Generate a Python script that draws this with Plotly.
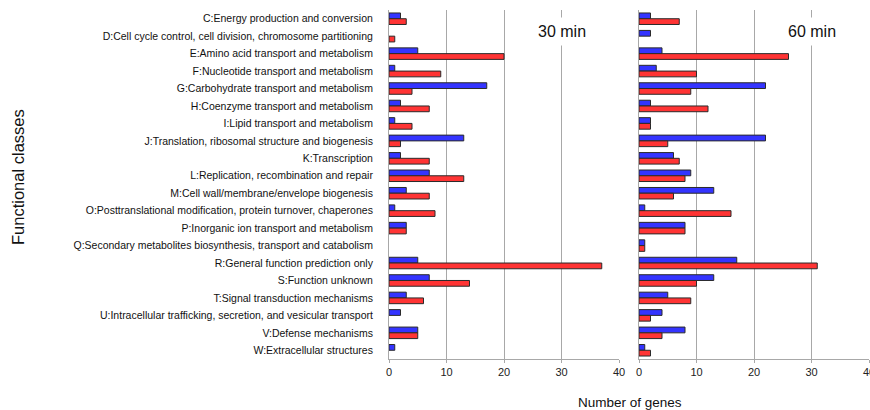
import plotly.graph_objects as go

categories = [
    "C:Energy production and conversion",
    "D:Cell cycle control, cell division, chromosome partitioning",
    "E:Amino acid transport and metabolism",
    "F:Nucleotide transport and metabolism",
    "G:Carbohydrate transport and metabolism",
    "H:Coenzyme transport and metabolism",
    "I:Lipid transport and metabolism",
    "J:Translation, ribosomal structure and biogenesis",
    "K:Transcription",
    "L:Replication, recombination and repair",
    "M:Cell wall/membrane/envelope biogenesis",
    "O:Posttranslational modification, protein turnover, chaperones",
    "P:Inorganic ion transport and metabolism",
    "Q:Secondary metabolites biosynthesis, transport and catabolism",
    "R:General function prediction only",
    "S:Function unknown",
    "T:Signal transduction mechanisms",
    "U:Intracellular trafficking, secretion, and vesicular transport",
    "V:Defense mechanisms",
    "W:Extracellular structures",
]

# 30 min: blue / red series
blue_30 = [2, 0, 5, 1, 17, 2, 1, 13, 2, 7, 3, 1, 3, 0, 5, 7, 3, 2, 5, 1]
red_30 = [3, 1, 20, 9, 4, 7, 4, 2, 7, 13, 7, 8, 3, 0, 37, 14, 6, 0, 5, 0]

# 60 min: blue / red series
blue_60 = [2, 2, 4, 3, 22, 2, 2, 22, 6, 9, 13, 1, 8, 1, 17, 13, 5, 4, 8, 1]
red_60 = [7, 0, 26, 10, 9, 12, 2, 5, 7, 8, 6, 16, 8, 1, 31, 10, 9, 2, 4, 2]

x_ticks = [0, 10, 20, 30, 40]
panel_titles = ["30 min", "60 min"]

BLUE = "#3434ff"
RED = "#ff3434"
EDGE = "#2a2a2a"
GRID = "#a8a8a8"
FONT = "Liberation Sans, Arial, sans-serif"


def bars(values):
    # empty categories are left without a bar
    return [v if v else None for v in values]


fig = go.Figure()

for i, (b, r) in enumerate([(blue_30, red_30), (blue_60, red_60)]):
    xa = "x" if i == 0 else "x2"
    ya = "y" if i == 0 else "y2"
    fig.add_trace(go.Bar(
        y=categories, x=bars(b), orientation="h", xaxis=xa, yaxis=ya,
        marker=dict(color=BLUE, line=dict(color=EDGE, width=1)),
        showlegend=False, offsetgroup="b",
    ))
    fig.add_trace(go.Bar(
        y=categories, x=bars(r), orientation="h", xaxis=xa, yaxis=ya,
        marker=dict(color=RED, line=dict(color=EDGE, width=1)),
        showlegend=False, offsetgroup="r",
    ))

W, H = 870, 410
y_dom = [(H - 359) / H, (H - 10) / H]

xaxis_common = dict(
    range=[0, 40], tickvals=x_ticks, showgrid=True, gridcolor=GRID, gridwidth=1,
    zeroline=False, showline=True, linecolor=GRID, linewidth=1,
    ticks="outside", ticklen=3, tickcolor=GRID,
    tickfont=dict(family=FONT, size=11, color="#222222"),
    ticklabeloverflow="allow", automargin=False, fixedrange=True,
)
yaxis_common = dict(
    categoryorder="array", categoryarray=categories, autorange="reversed",
    showgrid=False, zeroline=False, showline=True, linecolor=GRID, linewidth=1,
    domain=y_dom, automargin=False, fixedrange=True,
)

fig.update_layout(
    width=W, height=H,
    margin=dict(l=0, r=0, t=0, b=0),
    paper_bgcolor="white", plot_bgcolor="white",
    barmode="group", bargap=0.34, bargroupgap=0,
    font=dict(family=FONT, color="#111111"),
    xaxis=dict(domain=[389 / W, 619 / W], anchor="y", **xaxis_common),
    xaxis2=dict(domain=[639 / W, 869 / W], anchor="y2", **xaxis_common),
    yaxis=dict(anchor="x", showticklabels=True, ticklabelstandoff=13,
               tickfont=dict(family=FONT, size=10.5, color="#111111"), **yaxis_common),
    yaxis2=dict(anchor="x2", showticklabels=False, **yaxis_common),
)

for title, xref in zip(panel_titles, ["x", "x2"]):
    fig.add_annotation(
        x=30, y=(H - 32) / H, xref=xref, yref="paper", text=title, showarrow=False,
        font=dict(family=FONT, size=16, color="#111111"),
        bgcolor="white", borderpad=5, xanchor="center", yanchor="middle",
    )

fig.add_annotation(
    x=630 / W, y=(H - 402) / H, xref="paper", yref="paper", text="Number of genes",
    showarrow=False, font=dict(family=FONT, size=13.5, color="#111111"),
    xanchor="center", yanchor="middle",
)
fig.add_annotation(
    x=18 / W, y=(H - 177) / H, xref="paper", yref="paper", text="Functional classes",
    showarrow=False, textangle=-90, font=dict(family=FONT, size=16.5, color="#111111"),
    xanchor="center", yanchor="middle",
)

fig.write_html("out.html")
